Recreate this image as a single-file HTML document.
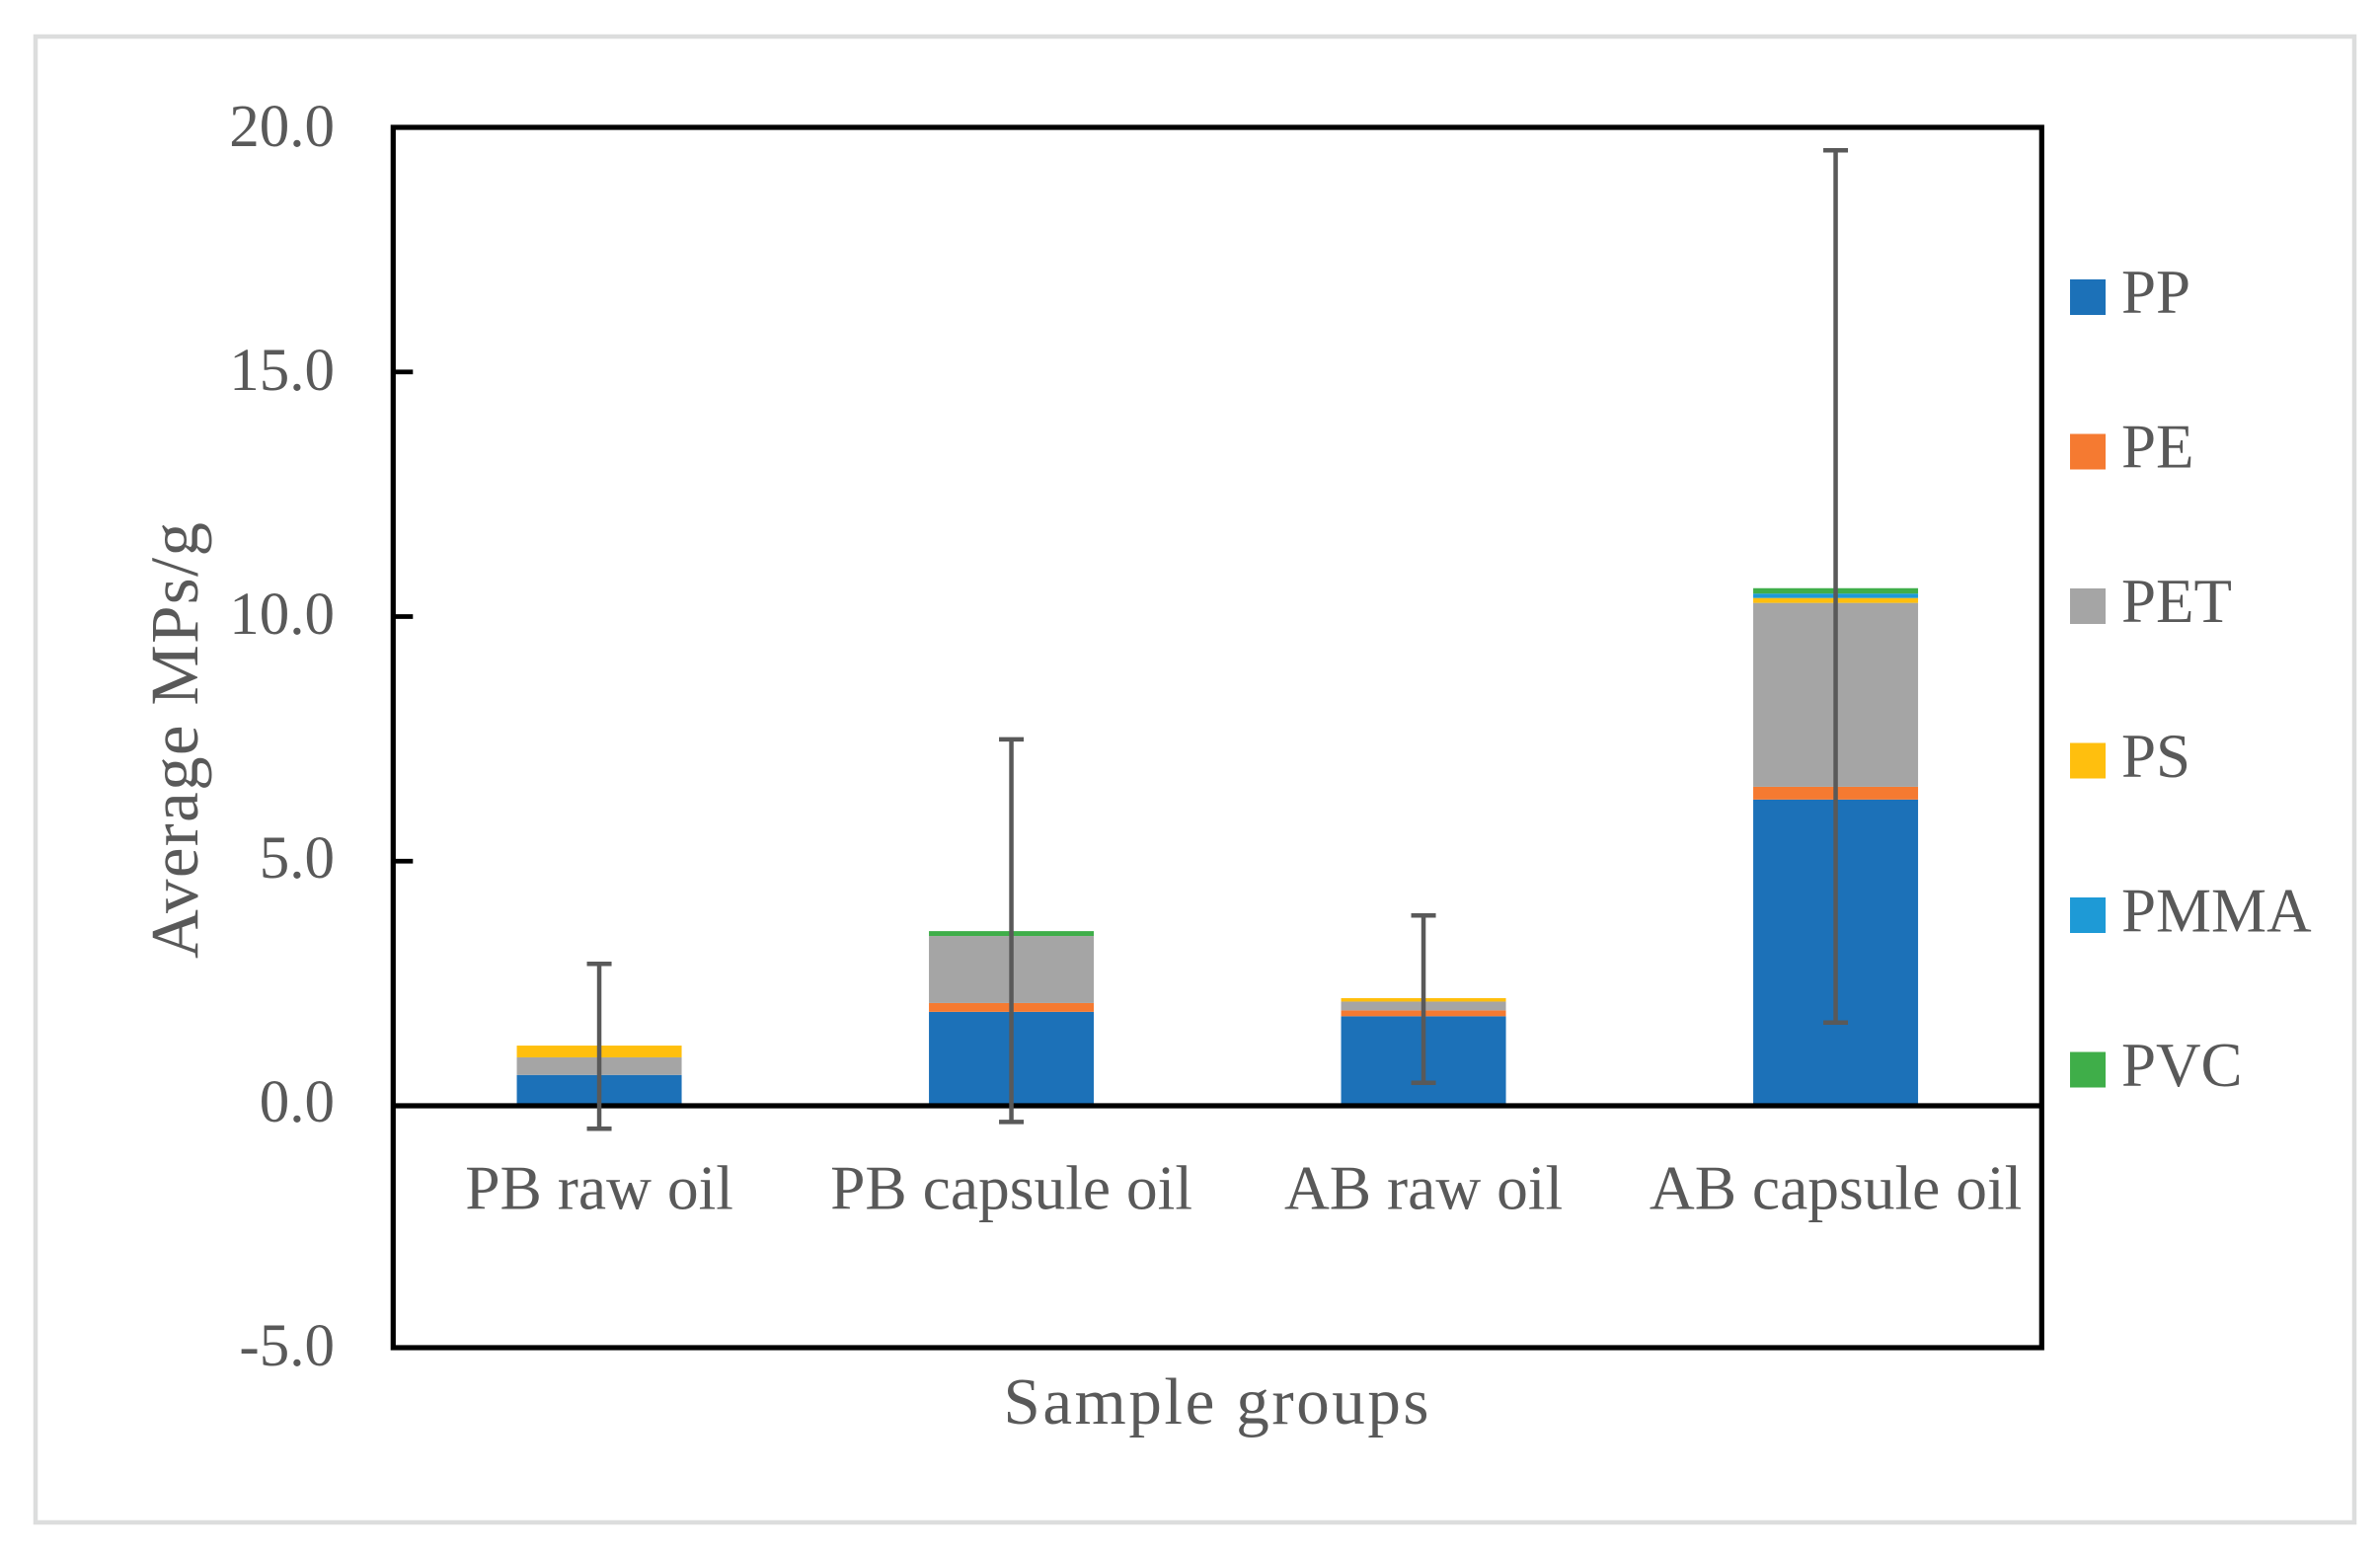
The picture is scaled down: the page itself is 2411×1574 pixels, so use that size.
<!DOCTYPE html>
<html lang="en">
<head>
<meta charset="utf-8">
<title>Average MPs per gram by sample group</title>
<style>
  html, body { margin: 0; padding: 0; background: #ffffff; }
  body { width: 2411px; height: 1574px; overflow: hidden; }
  svg { display: block; }
  text { font-family: "Liberation Serif", serif; fill: #595959; }
</style>
</head>
<body>
<svg id="chart" xmlns="http://www.w3.org/2000/svg" width="2411" height="1574" viewBox="0 0 2411 1574">
  <rect x="36" y="37" width="2349" height="1505" fill="#ffffff" stroke="#dcdddd" stroke-width="4.5"></rect>
  <g id="bars"></g>
  <g id="axes"></g>
  <g id="errors"></g>
  <g id="labels"></g>
  <g id="legend"></g>
  <text x="1232" y="1442" font-size="67" text-anchor="middle" textLength="431" lengthAdjust="spacing">Sample groups</text>
  <text x="200" y="750" font-size="69" text-anchor="middle" textLength="442" lengthAdjust="spacing" transform="rotate(-90 200 750)">Average MPs/g</text>
</svg>
<script>
// Chart data
const categories = ['PB raw oil', 'PB capsule oil', 'AB raw oil', 'AB capsule oil'];
const seriesNames = ['PP', 'PE', 'PET', 'PS', 'PMMA', 'PVC'];
const seriesColors = ['#1c71b8', '#f57a31', '#a5a5a5', '#ffbf0e', '#1e9ad6', '#3fae49'];
const valuesPP = [0.63, 1.92, 1.83, 6.26];
const valuesPE = [0, 0.18, 0.12, 0.26];
const valuesPET = [0.36, 1.37, 0.18, 3.76];
const valuesPS = [0.24, 0, 0.07, 0.10];
const valuesPMMA = [0, 0, 0, 0.09];
const valuesPVC = [0, 0.10, 0, 0.11];
const errorLow = [-0.47, -0.33, 0.47, 1.70];
const errorHigh = [2.90, 7.49, 3.89, 19.53];
const yTicks = [20, 15, 10, 5, 0, -5];
const yTickLabels = ['20.0', '15.0', '10.0', '5.0', '0.0', '-5.0'];

const seriesValues = [valuesPP, valuesPE, valuesPET, valuesPS, valuesPMMA, valuesPVC];

// Layout
const NS = 'http://www.w3.org/2000/svg';
const plotLeft = 398.3;
const plotRight = 2068.3;
const plotTop = 129;
const plotBottom = 1365;
const zeroY = 1120;
const unitPx = 49.55;
const barWidth = 167;
const capWidth = 25;

function yScale(v) { return zeroY - v * unitPx; }
function xCenter(i) { return plotLeft + (plotRight - plotLeft) * (i + 0.5) / categories.length; }
function yLabelBaseline(v) { return 1136 - 49.4 * v; }

function make(tag, attrs, parent) {
  const el = document.createElementNS(NS, tag);
  for (const k in attrs) el.setAttribute(k, attrs[k]);
  parent.appendChild(el);
  return el;
}

const barsG = document.getElementById('bars');
const axesG = document.getElementById('axes');
const errorsG = document.getElementById('errors');
const labelsG = document.getElementById('labels');
const legendG = document.getElementById('legend');

// Stacked bars
categories.forEach(function (cat, i) {
  let cumulative = 0;
  seriesValues.forEach(function (vals, s) {
    const v = vals[i];
    if (v > 0) {
      const top = yScale(cumulative + v);
      const bottom = yScale(cumulative);
      const seg = make('rect', {
        x: xCenter(i) - barWidth / 2,
        y: top,
        width: barWidth,
        height: bottom - top,
        fill: seriesColors[s]
      }, barsG);
      
      
    }
    cumulative += v;
  });
});

// Plot frame, zero line and ticks
const frame = make('rect', {
  x: plotLeft,
  y: plotTop,
  width: plotRight - plotLeft,
  height: plotBottom - plotTop,
  fill: 'none',
  stroke: '#000000',
  'stroke-width': 5.2
}, axesG);



const zeroLine = make('line', {
  x1: plotLeft,
  x2: plotRight,
  y1: yScale(0),
  y2: yScale(0),
  stroke: '#000000',
  'stroke-width': 5.2
}, axesG);



yTicks.forEach(function (t, i) {
  if (t > 0 && t < 20) {
    const tick = make('line', {
      x1: plotLeft,
      x2: plotLeft + 20,
      y1: yScale(t),
      y2: yScale(t),
      stroke: '#000000',
      'stroke-width': 4.8
    }, axesG);
    
    
  }
  const label = make('text', {
    x: 339,
    y: yLabelBaseline(t),
    'font-size': 61,
    'text-anchor': 'end'
  }, labelsG);
  label.textContent = yTickLabels[i];
  
  
});

// Error bars
categories.forEach(function (cat, i) {
  const cx = xCenter(i);
  const stem = make('line', {
    x1: cx,
    x2: cx,
    y1: yScale(errorHigh[i]),
    y2: yScale(errorLow[i]),
    stroke: '#595959',
    'stroke-width': 4.5
  }, errorsG);
  
  

  const capTop = make('line', {
    x1: cx - capWidth / 2,
    x2: cx + capWidth / 2,
    y1: yScale(errorHigh[i]),
    y2: yScale(errorHigh[i]),
    stroke: '#595959',
    'stroke-width': 4.5
  }, errorsG);
  
  

  const capBottom = make('line', {
    x1: cx - capWidth / 2,
    x2: cx + capWidth / 2,
    y1: yScale(errorLow[i]),
    y2: yScale(errorLow[i]),
    stroke: '#595959',
    'stroke-width': 4.5
  }, errorsG);
  
  

  const catLabel = make('text', {
    x: cx,
    y: 1224.5,
    'font-size': 63.5,
    'text-anchor': 'middle'
  }, labelsG);
  catLabel.textContent = cat;
  
  
});

// Legend
seriesNames.forEach(function (name, s) {
  const entry = make('g', {}, legendG);
  
  

  const swatch = make('rect', {
    x: 2097,
    y: 283 + 156.5 * s,
    width: 36,
    height: 36,
    fill: seriesColors[s]
  }, entry);
  
  

  const text = make('text', {
    x: 2149,
    y: 317 + 156.6 * s,
    'font-size': 63
  }, entry);
  text.textContent = name;
  
  
});
</script>
</body>
</html>
